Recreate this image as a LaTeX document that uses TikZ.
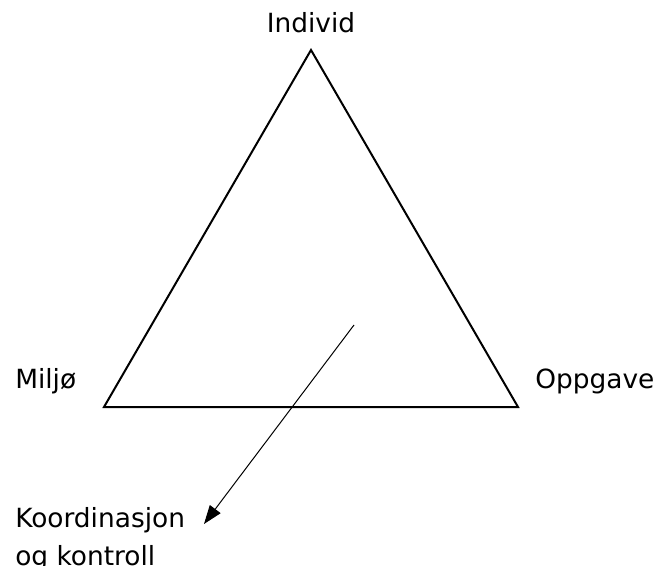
\documentclass[tikz,border=0pt]{standalone}
\usepackage{fontspec}
\setmainfont{DejaVu Sans}
\usetikzlibrary{arrows.meta}
\begin{document}
\begin{tikzpicture}[
    x=0.75pt, y=-0.75pt,
    label/.style = {inner sep=0pt, font=\fontsize{19.8}{28.5}\selectfont},
    side/.style = {draw, line width=1.5pt, line join=miter},
    pointer/.style = {draw, line width=0.75pt, -{Triangle[length=14pt, width=10pt]}}
]
    \useasboundingbox (0,0) rectangle (656,566);
    % Corners
    \coordinate (top) at (311,50);
    \coordinate (left) at (104,407);
    \coordinate (right) at (518,407);
    \coordinate (inside) at (354,325);
    \coordinate (tip) at (204,524);

    % Labels
    \node [label, anchor=base] (individ) at (311,33) {Individ};
    \node [label, anchor=base west] (miljo) at (15,388) {Miljø};
    \node [label, anchor=base west] (oppgave) at (535,388) {Oppgave};
    \node [label, anchor=base west, align=left] (koord) at (15,565) {Koordinasjon\\og kontroll};

    % Triangle
    \path [side] (top) -- (right) -- (left) -- cycle;

    % Arrow
    \path [pointer] (inside) -- (tip);
\end{tikzpicture}
\end{document}
